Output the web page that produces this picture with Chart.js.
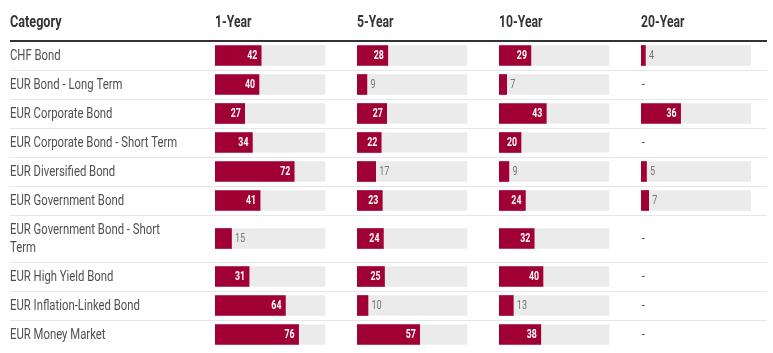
<!DOCTYPE html>
<html><head><meta charset="utf-8">
<script src="https://cdn.jsdelivr.net/npm/chart.js@4/dist/chart.umd.min.js"></script>
<style>html,body{margin:0;padding:0;background:#fff;}#wrap{width:773px;height:353px;position:relative;}</style>
</head><body><div id="wrap"><canvas id="c"></canvas></div>
<script>
// ---- data ----
const headerLabel = 'Category';
const categories = [
  'CHF Bond',
  'EUR Bond - Long Term',
  'EUR Corporate Bond',
  'EUR Corporate Bond - Short Term',
  'EUR Diversified Bond',
  'EUR Government Bond',
  'EUR Government Bond - Short\nTerm',
  'EUR High Yield Bond',
  'EUR Inflation-Linked Bond',
  'EUR Money Market'
];
const periods = ['1-Year', '5-Year', '10-Year', '20-Year'];
const oneYear    = [42, 40, 27, 34, 72, 41, 15, 31, 64, 76];
const fiveYear   = [28, 9, 27, 22, 17, 23, 24, 25, 10, 57];
const tenYear    = [29, 7, 43, 20, 9, 24, 32, 40, 13, 38];
const twentyYear = [4, null, 36, null, 5, 7, null, null, null, null];
const seriesValues = [oneYear, fiveYear, tenYear, twentyYear];
const scaleMax = 100;
const missingText = '-';

// ---- layout / style ----
const FONT = "Roboto, 'Liberation Sans', sans-serif";
const barColor = '#a00033';
const trackColor = '#ebebeb';
const colPitch = 142, trackWidth = 110;
const rowBase = 29, rowExtraLine = 18;

const rowLines = categories.map(c => c.split('\n').length);
const rowHeights = rowLines.map(n => rowBase + rowExtraLine * (n - 1));
const bounds = [0];
rowHeights.forEach(h => bounds.push(bounds[bounds.length - 1] + h));
const centers = rowHeights.map((h, i) => bounds[i] + h / 2);
const totalUnits = bounds[bounds.length - 1];

const datasets = [];
const scales = {
  y: {
    type: 'linear', position: 'left', reverse: true, min: 0, max: totalUnits,
    offset: false,
    grid: {display: false, offset: false}, border: {display: false},
    afterBuildTicks: s => { s.ticks = centers.map(v => ({value: v})); },
    afterFit: s => { s.width = 205; s.paddingTop = 0; s.paddingBottom = 0; },
    ticks: {display: false, autoSkip: false, callback: (v, i) => categories[i].split('\n')}
  }
};
periods.forEach((p, k) => {
  const id = 'x' + k;
  const last = k === periods.length - 1;
  scales[id] = {
    type: 'linear', position: 'bottom', stack: 'cols',
    stackWeight: last ? trackWidth : colPitch,
    min: 0, max: last ? scaleMax : scaleMax * colPitch / trackWidth,
    display: false
  };
  const vals = seriesValues[k];
  datasets.push({
    label: p + ' track', xAxisID: id, yAxisID: 'y', order: 2,
    data: vals.map((v, i) => v == null ? null : {x: scaleMax, y: centers[i]}).filter(d => d),
    backgroundColor: trackColor, barThickness: 20, grouped: false, isTrack: true
  });
  datasets.push({
    label: p, xAxisID: id, yAxisID: 'y', order: 1,
    data: vals.map((v, i) => v == null ? null : {x: v, y: centers[i]}).filter(d => d),
    backgroundColor: barColor, barThickness: 20, grouped: false, isTrack: false, col: k
  });
});

function narrowText(ctx, text, x, y, font, sx, align, color) {
  ctx.save();
  ctx.font = font;
  ctx.fillStyle = color;
  ctx.textAlign = align;
  ctx.textBaseline = 'middle';
  ctx.translate(x, y);
  ctx.scale(sx, 1);
  ctx.fillText(text, 0, 0);
  ctx.restore();
}
function narrowWidth(ctx, text, font, sx) {
  ctx.save(); ctx.font = font; const w = ctx.measureText(text).width * sx; ctx.restore(); return w;
}

const tablePlugin = {
  id: 'tablePlugin',
  beforeDraw(chart) {
    const ctx = chart.ctx, ca = chart.chartArea, ys = chart.scales.y;
    ctx.save();
    ctx.fillStyle = '#fff';
    ctx.fillRect(0, 0, chart.width, chart.height);
    const left = 10, right = chart.width - 6;
    // headers
    const hFont = "bold 16px " + FONT;
    narrowText(ctx, headerLabel, left, ca.top - 18, hFont, 0.79, 'left', '#333');
    periods.forEach((p, k) => {
      const xs = chart.scales['x' + k];
      narrowText(ctx, p, xs.getPixelForValue(0), ca.top - 18, hFont, 0.76, 'left', '#333');
    });
    // category labels (at the y scale's row positions)
    const lFont = "15px " + FONT;
    ys.ticks.forEach((t, i) => {
      const lines = categories[i].split('\n');
      const cy = ys.getPixelForValue(t.value);
      lines.forEach((ln, j) => {
        const yy = cy + (j - (lines.length - 1) / 2) * rowExtraLine;
        narrowText(ctx, ln, left, yy + 0.5, lFont, 0.755, 'left', '#505050');
      });
    });
    // separators
    ctx.strokeStyle = '#e6e6e6';
    ctx.lineWidth = 1;
    for (let i = 1; i < bounds.length - 1; i++) {
      const y = Math.round(ys.getPixelForValue(bounds[i])) + 0.5;
      ctx.beginPath(); ctx.moveTo(left, y); ctx.lineTo(right, y); ctx.stroke();
    }
    // header rule
    ctx.strokeStyle = '#333';
    ctx.lineWidth = 2;
    ctx.beginPath(); ctx.moveTo(left, ca.top); ctx.lineTo(right, ca.top); ctx.stroke();
    ctx.restore();
  },
  afterDatasetsDraw(chart) {
    const ctx = chart.ctx, ys = chart.scales.y;
    const inFont = "bold 12.5px " + FONT, outFont = "13px " + FONT, sx = 0.7;
    chart.data.datasets.forEach((ds, di) => {
      if (ds.isTrack) return;
      const meta = chart.getDatasetMeta(di);
      meta.data.forEach((el, j) => {
        const txt = String(ds.data[j].x);
        const w = narrowWidth(ctx, txt, inFont, sx);
        const barW = el.x - el.base;
        if (barW >= w + 10) {
          narrowText(ctx, txt, el.x - 4, el.y + 0.5, inFont, sx, 'right', '#fff');
        } else {
          narrowText(ctx, txt, el.x + 3.5, el.y + 0.5, outFont, sx, 'left', '#777');
        }
      });
      // missing values
      const xs = chart.scales['x' + ds.col];
      seriesValues[ds.col].forEach((v, i) => {
        if (v != null) return;
        narrowText(ctx, missingText, xs.getPixelForValue(0) + 1, ys.getPixelForValue(centers[i]), "12px " + FONT, 0.8, 'left', '#333');
      });
    });
  }
};

new Chart(document.getElementById('c'), {
  type: 'bar',
  data: {datasets},
  options: {
    indexAxis: 'y',
    responsive: true, maintainAspectRatio: false, animation: false,
    layout: {padding: {left: 10, right: 22, top: 41, bottom: 4}},
    scales,
    plugins: {legend: {display: false}, tooltip: {enabled: false}, title: {display: false}}
  },
  plugins: [tablePlugin]
});
</script></body></html>
